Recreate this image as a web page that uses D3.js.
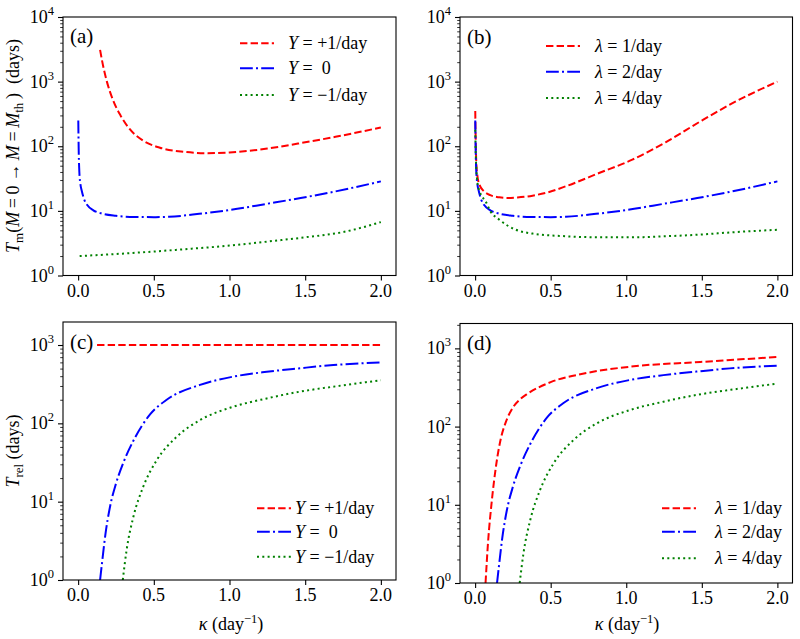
<!DOCTYPE html>
<html lang="en">
<head>
<meta charset="utf-8">
<title>Tm and Trel versus kappa</title>
<script src="https://cdn.jsdelivr.net/npm/d3@7"></script>
<style>
  body { margin: 0; background: #fff; }
</style>
</head>
<body>
<svg id="chart" width="800" height="639"></svg>
<script>
// values: [kappa (1/day), time (days)]
var kappaTicks = [0, 0.5, 1, 1.5, 2];
var panelNames = ["(a)", "(b)", "(c)", "(d)"];
var yLegend = ["Y = +1/day", "Y =  0", "Y = \u22121/day"];
var lamLegend = ["\u03bb = 1/day", "\u03bb = 2/day", "\u03bb = 4/day"];

// (a) Tm for Y = +1, 0, -1
var tmYPlus = [[0.145, 3100], [0.16, 2000], [0.19, 1000], [0.23, 520], [0.28, 300], [0.34, 185], [0.43, 122],
  [0.54, 95], [0.7, 82], [0.85, 78], [1.0, 80], [1.25, 92], [1.5, 115], [1.7, 140], [2.0, 195]];
var tmYZero = [[0.001, 250], [0.004, 80], [0.008, 40], [0.015, 26], [0.025, 20], [0.04, 15], [0.06, 12.3],
  [0.1, 10.2], [0.15, 9.2], [0.25, 8.4], [0.37, 8.05], [0.5, 8.0], [0.6, 8.1], [0.8, 9], [1.0, 10.3],
  [1.25, 12.9], [1.47, 15.8], [1.7, 20], [2.0, 28.6]];
var tmYMinus = [[0.01, 2.0], [0.25, 2.15], [0.5, 2.35], [0.75, 2.6], [1.0, 2.9], [1.25, 3.35], [1.5, 3.9],
  [1.75, 4.7], [2.0, 6.7]];

// (b) Tm for lambda = 1, 2, 4
var tmLam1 = [[0.001, 350], [0.004, 120], [0.008, 55], [0.015, 35], [0.03, 25], [0.06, 20], [0.1, 17.5],
  [0.16, 16.2], [0.22, 15.8], [0.28, 16.1], [0.38, 17.2], [0.49, 19.6], [0.6, 24], [0.82, 38.5], [1.04, 62],
  [1.26, 115], [1.5, 250], [1.7, 460], [2.0, 1000]];
var tmLam2 = [[0.001, 250], [0.004, 80], [0.008, 40], [0.015, 26], [0.025, 20], [0.04, 15], [0.06, 12.3],
  [0.1, 10.2], [0.15, 9.2], [0.25, 8.4], [0.37, 8.05], [0.5, 8.0], [0.6, 8.1], [0.8, 9], [1.0, 10.3],
  [1.25, 12.9], [1.47, 15.8], [1.7, 20], [2.0, 28.6]];
var tmLam4 = [[0.001, 180], [0.004, 80], [0.008, 45], [0.015, 28], [0.03, 20], [0.07, 14], [0.1, 10],
  [0.16, 7.3], [0.27, 5.1], [0.38, 4.45], [0.6, 4.05], [0.82, 3.9], [1.04, 3.9], [1.26, 4.05], [1.49, 4.3],
  [1.7, 4.66], [2.0, 5.1]];

// (c) Trel for Y = +1, 0, -1
var trelYPlus = [[0.125, 1000], [2.0, 1000]];
var trelYZero = [[0.145, 1], [0.16, 1.8], [0.18, 3.8], [0.21, 8.5], [0.25, 17], [0.3, 32], [0.365, 60],
  [0.475, 130], [0.585, 200], [0.805, 310], [1.025, 395], [1.246, 455], [1.466, 505], [1.686, 555], [2.0, 600]];
var trelYMinus = [[0.295, 1], [0.32, 2.4], [0.365, 6.4], [0.43, 15.5], [0.52, 34], [0.65, 67], [0.805, 110],
  [1.025, 163], [1.246, 208], [1.466, 254], [1.686, 294], [2.0, 355]];

// (d) Trel for lambda = 1, 2, 4
var trelLam1 = [[0.069, 1], [0.085, 3.2], [0.11, 11], [0.14, 33], [0.17, 70], [0.2, 110], [0.25, 175],
  [0.3, 225], [0.35, 265], [0.5, 370], [0.72, 477], [1.05, 590], [1.49, 670], [2.0, 777]];
var trelLam2 = [[0.145, 1], [0.16, 1.8], [0.18, 3.8], [0.21, 8.5], [0.25, 17], [0.3, 32], [0.365, 60],
  [0.475, 130], [0.585, 200], [0.805, 310], [1.025, 395], [1.246, 455], [1.466, 505], [1.686, 555], [2.0, 600]];
var trelLam4 = [[0.295, 1], [0.32, 2.4], [0.365, 6.4], [0.43, 15.5], [0.52, 34], [0.65, 67], [0.805, 110],
  [1.025, 163], [1.246, 208], [1.466, 254], [1.686, 294], [2.0, 355]];

var colors = ["#ff0000", "#0000ff", "#008000"];
var dashes = ["7.4,3.2", "12.8,3.2,2,3.2", "2,3.3"];

var svg = d3.select("#chart");

var panels = [
  { left: 63, right: 396, top: 17, bottom: 275.5, yMax: 1e4, series: [tmYPlus, tmYZero, tmYMinus],
    legend: yLegend, lx: 240, tx: 288, rows: [43.3, 68.3, 95], tickBase: 296.5, nx: 70, ny: 43 },
  { left: 460, right: 792.5, top: 17, bottom: 275.5, yMax: 1e4, series: [tmLam1, tmLam2, tmLam4],
    legend: lamLegend, lx: 546, tx: 595, rows: [46, 71.7, 98], tickBase: 296.5, nx: 467, ny: 44 },
  { left: 63, right: 396, top: 322, bottom: 580, yMax: 1967, series: [trelYPlus, trelYZero, trelYMinus],
    legend: yLegend, lx: 257, tx: 295, rows: [508.3, 531.7, 556.7], tickBase: 601, nx: 70, ny: 349 },
  { left: 460, right: 792.5, top: 323.5, bottom: 583, yMax: 2080, series: [trelLam1, trelLam2, trelLam4],
    legend: lamLegend, lx: 662, tx: 715, rows: [508.3, 531.7, 558.3], tickBase: 604, nx: 467, ny: 350 }
];

function legendText(sel, str) {
  // first letter is a math symbol: italic
  sel.append("tspan").attr("font-style", "italic").text(str.charAt(0));
  sel.append("tspan").text(str.slice(1));
}

function addText(parent) {
  return parent.append("text").attr("font-family", "Liberation Serif").attr("fill", "#000");
}

panels.forEach(function (p, pi) {
  var x = d3.scaleLinear().domain([-0.1, 2.1]).range([p.left, p.right]);
  var y = d3.scaleLog().domain([1, p.yMax]).range([p.bottom, p.top]);
  var g = svg.append("g");

  svg.append("clipPath").attr("id", "clip" + pi)
    .append("rect")
    .attr("x", p.left).attr("y", p.top)
    .attr("width", p.right - p.left).attr("height", p.bottom - p.top);

  var line = d3.line()
    .x(function (d) { return x(d[0]); })
    .y(function (d) { return y(d[1]); })
    .curve(d3.curveMonotoneX);

  p.series.forEach(function (s, i) {
    g.append("path")
      .datum(s)
      .attr("clip-path", "url(#clip" + pi + ")")
      .attr("d", line)
      .attr("fill", "none")
      .attr("stroke", colors[i])
      .attr("stroke-width", 2)
      .attr("stroke-dasharray", dashes[i]);
  });

  // x axis
  var xAxis = d3.axisBottom(x).tickValues(kappaTicks).tickSize(5).tickFormat("");
  var xg = g.append("g").attr("transform", "translate(0," + p.bottom + ")").call(xAxis);
  xg.select(".domain").remove();
  xg.selectAll("line").attr("stroke", "#000").attr("stroke-width", 1.1);
  kappaTicks.forEach(function (d) {
    addText(g)
      .attr("x", x(d))
      .attr("y", p.tickBase)
      .attr("text-anchor", "middle")
      .attr("font-size", 18)
      .text(d3.format(".1f")(d));
  });

  // y axis (log): majors with 10^n labels, minors 2..9
  var majors = [], minors = [];
  for (var e = 0; Math.pow(10, e) <= p.yMax; e++) {
    majors.push(Math.pow(10, e));
    for (var m = 2; m <= 9; m++) {
      if (m * Math.pow(10, e) <= p.yMax) minors.push(m * Math.pow(10, e));
    }
  }
  var yg = g.append("g").attr("transform", "translate(" + p.left + ",0)")
    .call(d3.axisLeft(y).tickValues(majors).tickSize(5).tickFormat(""));
  yg.select(".domain").remove();
  yg.selectAll("line").attr("stroke", "#000").attr("stroke-width", 1.1);
  var ym = g.append("g").attr("transform", "translate(" + p.left + ",0)")
    .call(d3.axisLeft(y).tickValues(minors).tickSize(2.8).tickFormat(""));
  ym.select(".domain").remove();
  ym.selectAll("line").attr("stroke", "#000").attr("stroke-width", 0.8);

  majors.forEach(function (v, k) {
    var t = addText(g)
      .attr("x", p.left - 9)
      .attr("y", y(v) + 6)
      .attr("text-anchor", "end")
      .attr("font-size", 18);
    t.append("tspan").text("10");
    t.append("tspan").attr("dy", -8).attr("font-size", 12.5).text(k);
  });

  // frame
  g.append("rect")
    .attr("x", p.left).attr("y", p.top)
    .attr("width", p.right - p.left).attr("height", p.bottom - p.top)
    .attr("fill", "none").attr("stroke", "#000").attr("stroke-width", 1.1);

  // panel name
  addText(g)
    .attr("x", p.nx).attr("y", p.ny)
    .attr("font-size", 21)
    .text(panelNames[pi]);

  // legend
  p.legend.forEach(function (name, i) {
    g.append("line")
      .attr("x1", p.lx).attr("x2", p.lx + 34)
      .attr("y1", p.rows[i]).attr("y2", p.rows[i])
      .attr("stroke", colors[i]).attr("stroke-width", 2)
      .attr("stroke-dasharray", dashes[i]);
    var t = addText(g)
      .attr("x", p.tx).attr("y", p.rows[i] + 6)
      .attr("font-size", 18)
      .attr("xml:space", "preserve");
    legendText(t, name);
  });
});

// axis titles
var tm = addText(svg)
  .attr("transform", "translate(19,146) rotate(-90)")
  .attr("text-anchor", "middle")
  .attr("font-size", 18);
tm.append("tspan").attr("font-style", "italic").text("T");
tm.append("tspan").attr("dy", 4).attr("font-size", 13).text("m");
tm.append("tspan").attr("dy", -4).text("(");
tm.append("tspan").attr("font-style", "italic").text("M");
tm.append("tspan").text("\u2009=\u20090\u2009\u2192\u2009");
tm.append("tspan").attr("font-style", "italic").text("M");
tm.append("tspan").text("\u2009=\u2009");
tm.append("tspan").attr("font-style", "italic").text("M");
tm.append("tspan").attr("dy", 4).attr("font-size", 13).text("th");
tm.append("tspan").attr("dy", -4).text("\u2009)\u2002(days)");

var tr = addText(svg)
  .attr("transform", "translate(19,451) rotate(-90)")
  .attr("text-anchor", "middle")
  .attr("font-size", 18);
tr.append("tspan").attr("font-style", "italic").text("T");
tr.append("tspan").attr("dy", 4).attr("font-size", 13).text("rel");
tr.append("tspan").attr("dy", -4).text(" (days)");

[231, 627].forEach(function (cx) {
  var t = addText(svg)
    .attr("x", cx).attr("y", 630)
    .attr("text-anchor", "middle")
    .attr("font-size", 18);
  t.append("tspan").attr("font-style", "italic").text("\u03ba");
  t.append("tspan").text(" (day");
  t.append("tspan").attr("dy", -7).attr("font-size", 12.5).text("\u22121");
  t.append("tspan").attr("dy", 7).text(")");
});
</script>
</body>
</html>
